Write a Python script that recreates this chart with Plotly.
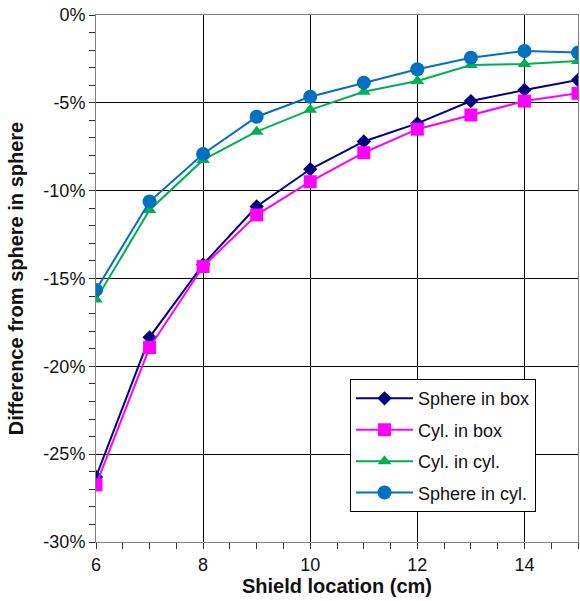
import plotly.graph_objects as go

x_cm = [6, 7, 8, 9, 10, 11, 12, 13, 14, 15]
sphere_in_box = [-26.3, -18.35, -14.2, -10.9, -8.78, -7.2, -6.17, -4.9, -4.27, -3.7]
cyl_in_box = [-26.75, -18.93, -14.32, -11.38, -9.49, -7.84, -6.5, -5.69, -4.9, -4.46]
cyl_in_cyl = [-16.2, -11.1, -8.25, -6.64, -5.4, -4.37, -3.76, -2.85, -2.79, -2.62]
sphere_in_cyl = [-15.65, -10.62, -7.91, -5.79, -4.65, -3.85, -3.09, -2.43, -2.05, -2.14]

series_names = ["Sphere in box", "Cyl. in box", "Cyl. in cyl.", "Sphere in cyl."]
y_tick_vals = [0, -5, -10, -15, -20, -25, -30]
y_tick_text = ["0%", "-5%", "-10%", "-15%", "-20%", "-25%", "-30%"]
x_tick_vals = [6, 8, 10, 12, 14]

styles = [
    dict(color="#000080", symbol="diamond", size=11),
    dict(color="#FF00FF", symbol="square", size=13),
    dict(color="#00B050", symbol="triangle-up", size=12),
    dict(color="#0070C0", symbol="circle", size=14),
]

fig = go.Figure()
for i, (name, ys, st) in enumerate(zip(series_names, [sphere_in_box, cyl_in_box, cyl_in_cyl, sphere_in_cyl], styles)):
    fig.add_trace(go.Scatter(
        x=x_cm, y=ys, name=name, mode="lines+markers", legendgroup=f"g{i}",
        line=dict(color=st["color"], width=2),
        marker=dict(color=st["color"], symbol=st["symbol"], size=st["size"], line=dict(width=0)),
    ))

font_family = "Liberation Sans, Arial, sans-serif"
fig.update_layout(
    width=580, height=601,
    margin=dict(l=96, r=2, t=15, b=59),
    paper_bgcolor="white", plot_bgcolor="white",
    font=dict(family=font_family, size=18, color="#111"),
    showlegend=True,
    legend=dict(
        x=0.527, y=0.309, xanchor="left", yanchor="top",
        bgcolor="white", bordercolor="black", borderwidth=1,
        font=dict(size=18, color="#111"), itemwidth=57,
        tracegroupgap=5,
    ),
    xaxis=dict(
        range=[6, 15], tickvals=x_tick_vals,
        showgrid=True, gridcolor="black", gridwidth=1,
        showline=True, linecolor="#808080", linewidth=1, mirror=True,
        ticks="outside", ticklen=6, tickcolor="#333",
        minor=dict(dtick=0.5, ticks="outside", ticklen=6, tickcolor="#333", showgrid=False),
        zeroline=False,
        title=dict(text="<b>Shield location (cm)</b>", font=dict(size=20, color="#111"), standoff=4),
    ),
    yaxis=dict(
        range=[-30, 0], tickvals=y_tick_vals, ticktext=y_tick_text,
        showgrid=True, gridcolor="black", gridwidth=1,
        showline=True, linecolor="#808080", linewidth=1, mirror=True,
        ticks="outside", ticklen=6, tickcolor="#333",
        minor=dict(dtick=1, ticks="outside", ticklen=6, tickcolor="#333", showgrid=False),
        zeroline=False,
        title=dict(text="<b>Difference from sphere in sphere</b>", font=dict(size=20, color="#111"), standoff=14),
    ),
)

fig.write_html("out.html")
